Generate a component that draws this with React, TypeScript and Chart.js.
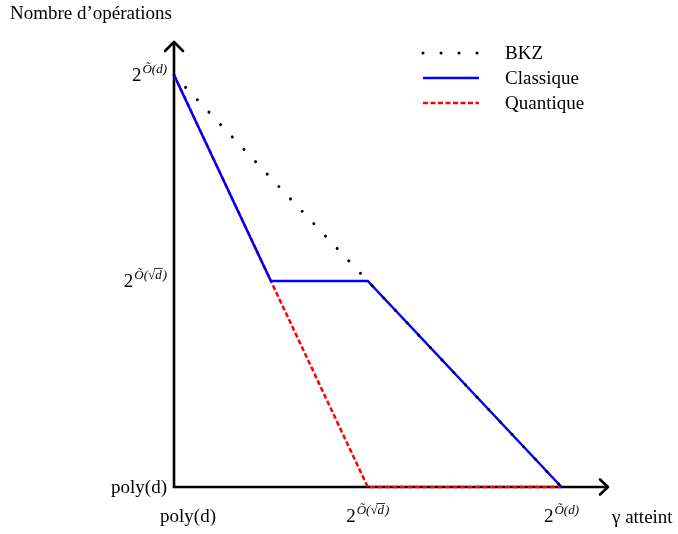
import React, { useEffect, useRef } from "react";
import { Chart, registerables } from "chart.js";

Chart.register(...registerables);

const bkzX = [0, 2];
const bkzY = [2, 0];
const classiqueX = [0, 0.5, 1, 2];
const classiqueY = [2, 1, 1, 0];
const quantiqueX = [0, 0.5, 1, 2];
const quantiqueY = [2, 1, 0, 0];

const seriesNames = ["BKZ", "Classique", "Quantique"];
const xTickValues = [0, 1, 2];
const yTickValues = [0, 1, 2];
// tick label kinds: "poly" = poly(d), "sqrt" = 2^Õ(√d), "lin" = 2^Õ(d)
const tickKinds = ["poly", "sqrt", "lin"];
const yTitle = "Nombre d\u2019opérations";
const xTitle = "\u03b3 atteint";

const FONT = "'Liberation Serif', 'DejaVu Serif', serif";
const BASE = 19;
const SUP = 13;

function pts(xs: number[], ys: number[]) {
  return xs.map((x, i) => ({ x, y: ys[i] }));
}

function labelWidth(ctx: CanvasRenderingContext2D, kind: string) {
  ctx.font = `${BASE}px ${FONT}`;
  if (kind === "poly") return ctx.measureText("poly(d)").width;
  let w = ctx.measureText("2").width + 1;
  ctx.font = `italic ${SUP}px ${FONT}`;
  if (kind === "lin") w += ctx.measureText("Õ(d)").width;
  else w += ctx.measureText("Õ(√d)").width + 1;
  return w;
}

// draws label with left x and baseline y
function drawLabel(ctx: CanvasRenderingContext2D, kind: string, x: number, y: number) {
  ctx.fillStyle = "#000";
  ctx.textBaseline = "alphabetic";
  ctx.textAlign = "left";
  ctx.font = `${BASE}px ${FONT}`;
  if (kind === "poly") {
    ctx.fillText("poly(d)", x, y);
    return;
  }
  ctx.fillText("2", x, y);
  let cx = x + ctx.measureText("2").width + 1;
  const sy = y - 8;
  ctx.font = `italic ${SUP}px ${FONT}`;
  if (kind === "lin") {
    ctx.fillText("Õ(d)", cx, sy);
  } else {
    const a = "Õ(√";
    ctx.fillText(a, cx, sy);
    cx += ctx.measureText(a).width;
    const dw = ctx.measureText("d").width;
    ctx.fillText("d", cx, sy);
    ctx.strokeStyle = "#000";
    ctx.lineWidth = 0.8;
    ctx.beginPath();
    ctx.moveTo(cx - 1, sy - 10.5);
    ctx.lineTo(cx + dw + 1, sy - 10.5);
    ctx.stroke();
    cx += dw + 1;
    ctx.fillText(")", cx, sy);
  }
}

const decorPlugin = {
  id: "decor",
  beforeDatasetsDraw(chart: any) {
    const ctx: CanvasRenderingContext2D = chart.ctx;
    const xs = chart.scales.x;
    const ys = chart.scales.y;
    const x0 = xs.getPixelForValue(0);
    const y0 = ys.getPixelForValue(0);
    const top = chart.chartArea.top;
    const right = chart.chartArea.right;
    ctx.save();
    ctx.strokeStyle = "#000";
    ctx.lineWidth = 2.6;
    ctx.lineCap = "butt";
    ctx.beginPath();
    ctx.moveTo(x0, y0 + 1.3);
    ctx.lineTo(x0, top);
    ctx.moveTo(x0 - 1.3, y0);
    ctx.lineTo(right, y0);
    ctx.stroke();
    ctx.lineCap = "round";
    ctx.lineJoin = "round";
    ctx.beginPath();
    ctx.moveTo(x0 - 9, top + 9);
    ctx.lineTo(x0, top);
    ctx.lineTo(x0 + 9, top + 9);
    ctx.moveTo(right - 8, y0 - 7.5);
    ctx.lineTo(right, y0);
    ctx.lineTo(right - 8, y0 + 7.5);
    ctx.stroke();
    ctx.restore();
  },
  afterDraw(chart: any) {
    const ctx: CanvasRenderingContext2D = chart.ctx;
    const xs = chart.scales.x;
    const ys = chart.scales.y;
    const x0 = xs.getPixelForValue(0);
    ctx.save();
    yTickValues.forEach((v, i) => {
      const kind = tickKinds[i];
      const w = labelWidth(ctx, kind);
      const py = ys.getPixelForValue(v);
      drawLabel(ctx, kind, x0 - 7 - w, py + 6);
    });
    xTickValues.forEach((v, i) => {
      const kind = tickKinds[i];
      const w = labelWidth(ctx, kind);
      let px = xs.getPixelForValue(v);
      if (kind === "poly") px += 14;
      drawLabel(ctx, kind, px - w / 2, ys.getPixelForValue(0) + 35);
    });
    ctx.font = `${BASE}px ${FONT}`;
    ctx.fillStyle = "#000";
    ctx.textAlign = "left";
    ctx.textBaseline = "alphabetic";
    ctx.fillText(yTitle, 10, 19);
    ctx.fillText(xTitle, 612, ys.getPixelForValue(0) + 36);
    const lx0 = 423;
    const lx1 = 479;
    const tx = 505;
    const rows = [53, 78, 103];
    chart.data.datasets.forEach((ds: any, i: number) => {
      const yy = rows[i];
      ctx.beginPath();
      ctx.strokeStyle = ds.borderColor;
      ctx.lineWidth = ds.borderWidth;
      ctx.lineCap = ds.borderCapStyle || "butt";
      ctx.setLineDash(ds.legendDash || []);
      ctx.moveTo(lx0, yy);
      ctx.lineTo(lx1, yy);
      ctx.stroke();
      ctx.setLineDash([]);
      ctx.fillStyle = "#000";
      ctx.font = `${BASE}px ${FONT}`;
      ctx.fillText(ds.label, tx, yy + 6);
    });
    ctx.restore();
  },
};

export default function App() {
  const ref = useRef<HTMLCanvasElement>(null);
  useEffect(() => {
    if (!ref.current) return;
    const chart = new Chart(ref.current, {
      type: "scatter",
      data: {
        datasets: [
          {
            label: seriesNames[0],
            data: pts(bkzX, bkzY),
            showLine: true,
            borderColor: "#000",
            borderWidth: 3,
            borderCapStyle: "round",
            borderDash: [0.01, 17],
            legendDash: [0.01, 18],
            pointRadius: 0,
            order: 0,
            clip: false,
          } as any,
          {
            label: seriesNames[1],
            data: pts(classiqueX, classiqueY),
            showLine: true,
            borderColor: "#0000ff",
            borderWidth: 2.5,
            pointRadius: 0,
            order: 1,
            clip: false,
          } as any,
          {
            label: seriesNames[2],
            data: pts(quantiqueX, quantiqueY),
            showLine: true,
            borderColor: "#ff0000",
            borderWidth: 2.5,
            borderDash: [5, 2.5],
            legendDash: [5, 2.5],
            pointRadius: 0,
            order: 2,
            clip: false,
          } as any,
        ],
      },
      options: {
        animation: false,
        responsive: false,
        layout: { padding: { left: 174, right: 70, top: 42, bottom: 47 } },
        plugins: { legend: { display: false }, tooltip: { enabled: false } },
        scales: {
          x: { type: "linear", min: 0, max: 2.24, display: false },
          y: { type: "linear", min: 0, max: 2.16, display: false },
        },
      },
      plugins: [decorPlugin],
    });
    return () => chart.destroy();
  }, []);
  return (
    <div style={{ position: "absolute", left: 0, top: 0, width: 678, height: 534, background: "#fff" }}>
      <canvas ref={ref} width={678} height={534} />
    </div>
  );
}
